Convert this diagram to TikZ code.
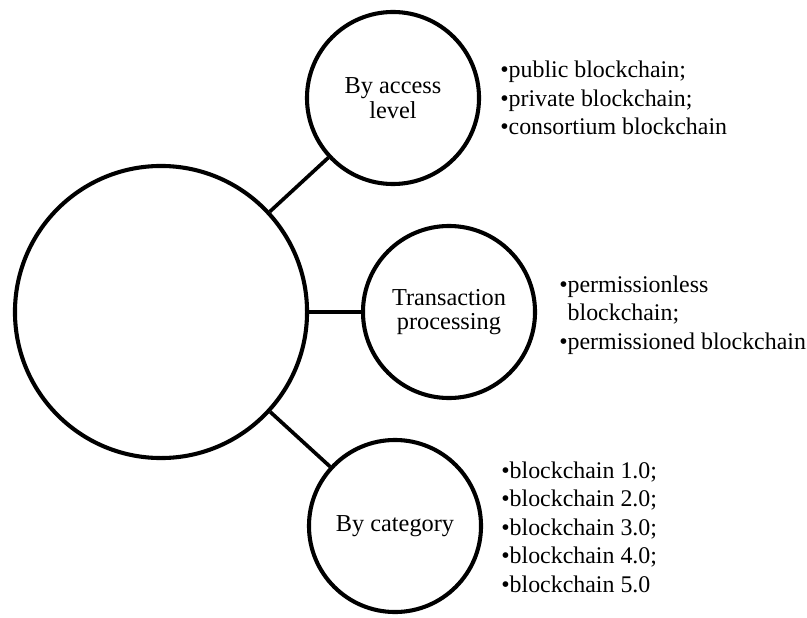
\documentclass[tikz,border=0pt]{standalone}
\usepackage{fontspec}
\setmainfont{Liberation Serif}
\tikzset{
  bubble/.style={circle, draw, line width=2.9pt, inner sep=0pt, align=center, font=\fontsize{17.3}{17.5}\selectfont},
  bulletlist/.style={anchor=west, inner sep=0pt, align=left, font=\fontsize{17}{20.3}\selectfont},
  link/.style={line width=2.6pt}
}
\begin{document}
\begin{tikzpicture}[x=0.025cm, y=-0.025cm]
  \useasboundingbox (0,0) rectangle (807,617);

  % Draw the circles
  \node[bubble, minimum size=7.3cm] (root) at (161,312) {};
  \node[bubble, minimum size=4.3cm] (access) at (393,98) {By access\\level};
  \node[bubble, minimum size=4.3cm] (processing) at (449,312) {Transaction\\processing};
  \node[bubble, minimum size=4.3cm] (category) at (395,526) {By category};

  % Connect them
  \draw[link] (root) -- (access);
  \draw[link] (root) -- (processing);
  \draw[link] (root) -- (category);

  % Add the lists
  \node[bulletlist] (accesslist) at (500,98) {•public blockchain;\\•private blockchain;\\•consortium blockchain};
  \node[bulletlist] (processinglist) at (559,315) {•permissionless\\\phantom{•}blockchain;\\•permissioned blockchain};
  \node[bulletlist] (categorylist) at (501,527) {•blockchain 1.0;\\•blockchain 2.0;\\•blockchain 3.0;\\•blockchain 4.0;\\•blockchain 5.0};
\end{tikzpicture}
\end{document}
